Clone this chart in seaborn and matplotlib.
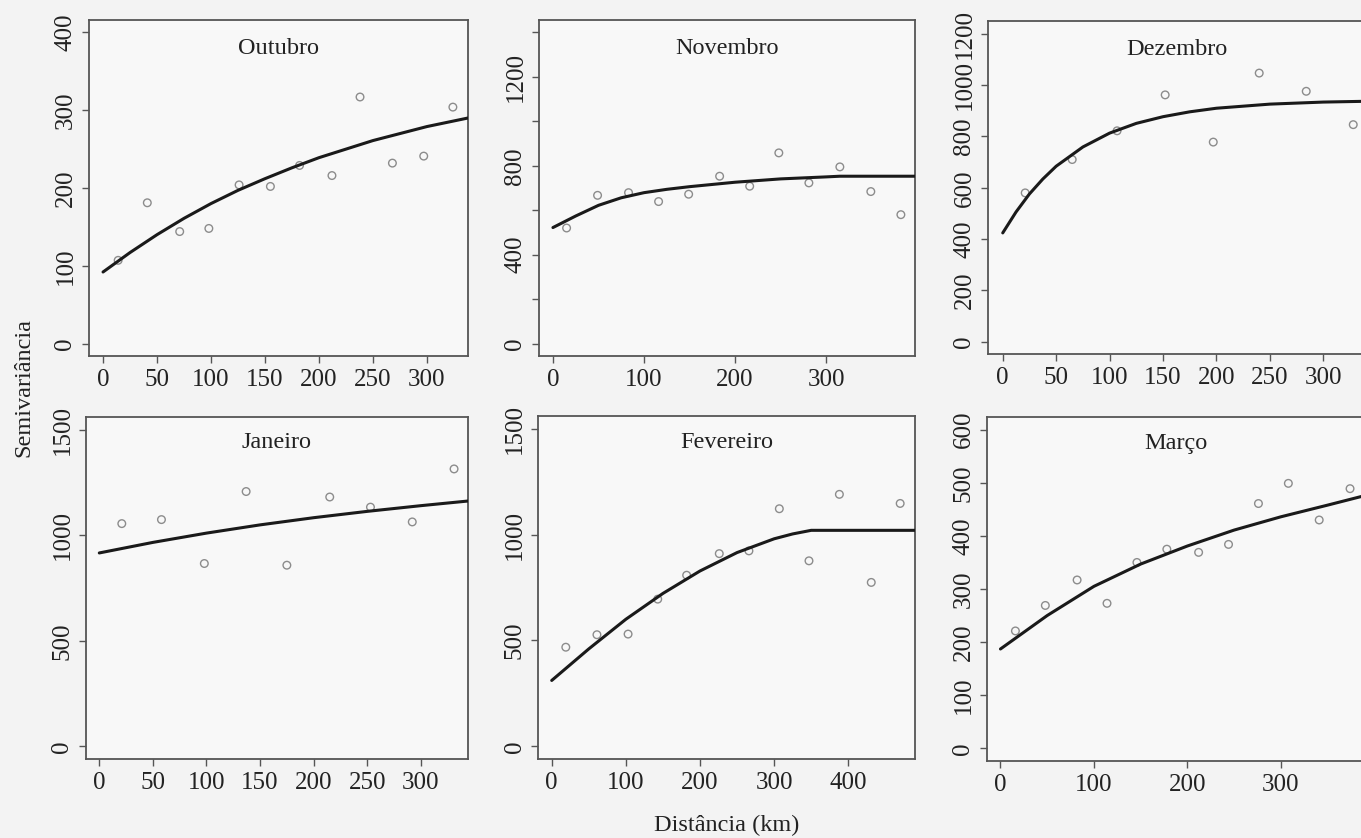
import numpy as np
import pandas as pd
import matplotlib.pyplot as plt
import seaborn as sns

# Semivariogram data (distance in km, semivariance)
months = ["Outubro", "Novembro", "Dezembro", "Janeiro", "Fevereiro", "Março"]

out_x = [14, 41, 71, 98, 126, 155, 182, 212, 238, 268, 297, 324]
out_y = [107, 181, 144, 148, 204, 202, 229, 216, 317, 232, 241, 304]
out_cx = [0, 25, 50, 75, 100, 125, 150, 175, 200, 225, 250, 275, 300, 338]
out_cy = [92, 117, 140, 161, 180, 197, 212, 226, 239, 250, 261, 270, 279, 290]

nov_x = [15, 49, 83, 116, 149, 183, 216, 248, 281, 315, 349, 382]
nov_y = [520, 667, 679, 639, 672, 753, 708, 858, 723, 795, 684, 580]
nov_cx = [0, 25, 50, 75, 100, 125, 150, 175, 200, 250, 300, 315, 398]
nov_cy = [522, 574, 622, 656, 679, 694, 706, 716, 726, 741, 750, 753, 753]

dez_x = [21, 65, 107, 152, 197, 240, 284, 328]
dez_y = [580, 710, 822, 962, 778, 1047, 976, 846]
dez_cx = [0, 12.5, 25, 37.5, 50, 75, 100, 125, 150, 175, 200, 250, 300, 339]
dez_cy = [424, 506, 576, 634, 684, 759, 813, 851, 877, 896, 910, 926, 934, 937]

jan_x = [21, 58, 98, 137, 175, 215, 253, 292, 331]
jan_y = [1055, 1074, 866, 1207, 858, 1181, 1133, 1063, 1314]
jan_cx = [0, 50, 100, 150, 200, 250, 300, 344]
jan_cy = [916, 966, 1010, 1049, 1083, 1113, 1140, 1162]

fev_x = [19, 61, 103, 143, 182, 226, 266, 307, 347, 388, 431, 470]
fev_y = [468, 527, 530, 695, 808, 910, 923, 1122, 876, 1190, 774, 1147]
fev_cx = [0, 50, 100, 150, 200, 250, 300, 325, 350, 490]
fev_cy = [311, 460, 600, 722, 828, 915, 980, 1003, 1020, 1020]

mar_x = [16, 48, 82, 114, 146, 178, 212, 244, 276, 308, 341, 374]
mar_y = [221, 269, 317, 273, 350, 375, 369, 384, 461, 499, 430, 489]
mar_cx = [0, 50, 100, 150, 200, 250, 300, 350, 390]
mar_cy = [187, 250, 305, 347, 381, 411, 436, 458, 476]

points = [(out_x, out_y), (nov_x, nov_y), (dez_x, dez_y),
          (jan_x, jan_y), (fev_x, fev_y), (mar_x, mar_y)]
curves = [(out_cx, out_cy), (nov_cx, nov_cy), (dez_cx, dez_cy),
          (jan_cx, jan_cy), (fev_cx, fev_cy), (mar_cx, mar_cy)]

# axis settings per panel
xlims = [(-13, 338), (-15.3, 397.5), (-13.8, 339), (-12.4, 344), (-18.5, 490), (-14.4, 390)]
ylims = [(-16, 416), (-56, 1456), (-48, 1250), (-60, 1560), (-60, 1560), (-24, 624)]
xticks = [np.arange(0, 301, 50), np.arange(0, 301, 100), np.arange(0, 301, 50),
          np.arange(0, 301, 50), np.arange(0, 401, 100), np.arange(0, 301, 100)]
yticks = [np.arange(0, 401, 100), np.arange(0, 1401, 200), np.arange(0, 1201, 200),
          np.arange(0, 1501, 500), np.arange(0, 1501, 500), np.arange(0, 601, 100)]

# panel boxes in pixels (left, top, right, bottom) on a 1361x838 canvas
boxes = [(89, 20, 468, 356), (539, 20, 915, 356), (988, 21, 1365, 354),
         (86, 417, 468, 759), (538, 416, 915, 759), (987, 417, 1365, 761)]

sns.set_theme(style="ticks")
plt.rcParams["font.family"] = ["Liberation Serif", "DejaVu Serif"]

W, H = 1361, 838
fig = plt.figure(figsize=(W / 100, H / 100), dpi=100, facecolor="#f3f3f3")

for i, name in enumerate(months):
    l, t, r, b = boxes[i]
    ax = fig.add_axes([l / W, 1 - b / H, (r - l) / W, (b - t) / H])
    ax.set_facecolor("#f8f8f8")

    px, py = points[i]
    cx, cy = curves[i]
    sns.scatterplot(x=px, y=py, ax=ax, marker="o", s=30, facecolor="none",
                    edgecolor="#8c8c8c", linewidth=1.0, zorder=3)
    sns.lineplot(x=cx, y=cy, ax=ax, color="#1a1a1a", linewidth=2.2,
                 sort=False, estimator=None, zorder=4)

    ax.set_xlim(*xlims[i])
    ax.set_ylim(*ylims[i])
    ax.set_xticks(xticks[i])
    ax.set_yticks(yticks[i])
    if i == 1:
        ax.set_yticklabels([str(v) if v % 400 == 0 else "" for v in yticks[i]])
    ax.tick_params(axis="both", labelsize=18, length=5, width=1.0,
                   color="#555555", labelcolor="#222222", pad=4)
    ax.tick_params(axis="y", labelrotation=90)
    for lab in ax.get_yticklabels():
        lab.set_va("center")
    for sp in ax.spines.values():
        sp.set_color("#555555")
        sp.set_linewidth(1.3)
    ax.set_xlabel("")
    ax.set_ylabel("")
    ytxt = 0.914 if i < 3 else 0.924
    ax.text(0.5, ytxt, name, transform=ax.transAxes, ha="center", va="center",
            fontsize=17.5, color="#222222")

fig.text(24 / W, 1 - 387 / H, "Semivariância", rotation=90, ha="center",
         va="center", fontsize=17.5, color="#222222")
fig.text(727 / W, 1 - 825 / H, "Distância (km)", ha="center", va="center",
         fontsize=17.5, color="#222222")

plt.savefig("out.png", dpi=100, facecolor=fig.get_facecolor())
plt.close()
